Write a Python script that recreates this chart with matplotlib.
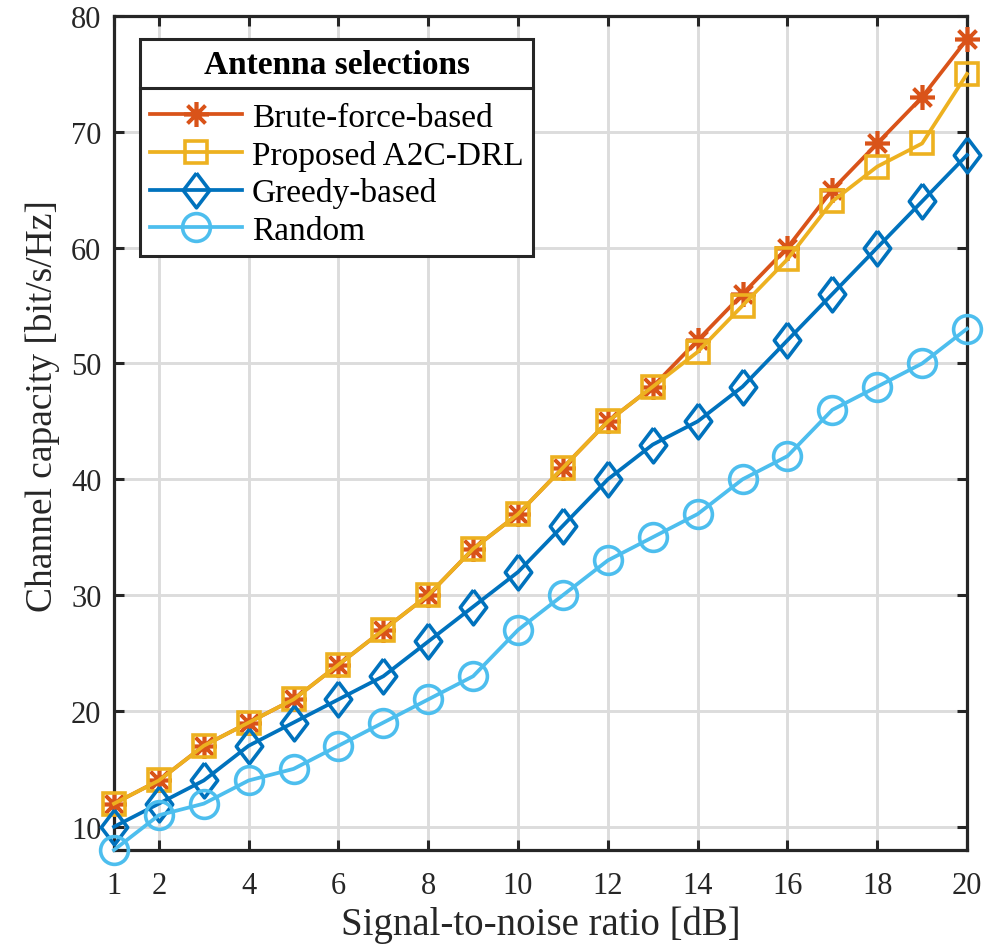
import matplotlib
matplotlib.use('Agg')
import matplotlib.pyplot as plt
from matplotlib.lines import Line2D
import numpy as np

plt.rcParams['font.family'] = ['Liberation Serif', 'DejaVu Serif']

snr = [1, 2, 3, 4, 5, 6, 7, 8, 9, 10, 11, 12, 13, 14, 15, 16, 17, 18, 19, 20]
brute = [12, 14, 17, 19, 21, 24, 27, 30, 34, 37, 41, 45, 48, 52, 56, 60, 65, 69, 73, 78]
proposed = [12, 14, 17, 19, 21, 24, 27, 30, 34, 37, 41, 45, 48, 51, 55, 59, 64, 67, 69, 75]
greedy = [10, 12, 14, 17, 19, 21, 23, 26, 29, 32, 36, 40, 43, 45, 48, 52, 56, 60, 64, 68]
rand_sel = [8, 11, 12, 14, 15, 17, 19, 21, 23, 27, 30, 33, 35, 37, 40, 42, 46, 48, 50, 53]

xticks = [1, 2, 4, 6, 8, 10, 12, 14, 16, 18, 20]
yticks = [10, 20, 30, 40, 50, 60, 70, 80]

c_brute = '#D95319'
c_prop = '#EDB120'
c_greedy = '#0072BD'
c_rand = '#4DBEEE'

fig = plt.figure(figsize=(10.07, 9.45), dpi=100)
ax = fig.add_axes([0.1132, 0.0995, 0.8471, 0.8825])

lw = 2.7
mew = 2.6
diamond = [(0, 1), (0.76, 0), (0, -1), (-0.76, 0), (0, 1)]

ax.plot(snr, brute, color=c_brute, lw=lw, marker=(8, 2, 0), ms=18, mew=mew,
        label='Brute-force-based', zorder=3, clip_on=False)
ax.plot(snr, proposed, color=c_prop, lw=lw, marker='s', ms=16, mew=mew,
        mfc='none', label='Proposed A2C-DRL', zorder=3, clip_on=False)
ax.plot(snr, greedy, color=c_greedy, lw=lw, marker=diamond, ms=25, mew=mew,
        mfc='none', label='Greedy-based', zorder=3, clip_on=False)
ax.plot(snr, rand_sel, color=c_rand, lw=lw, marker='o', ms=20, mew=mew,
        mfc='none', label='Random', zorder=3, clip_on=False)

ax.set_xlim(1, 20)
ax.set_ylim(8, 80)
ax.set_xticks(xticks)
ax.set_yticks(yticks)
ax.tick_params(direction='in', length=7, width=2.2, labelsize=22,
               top=True, right=True, colors='#262626')
ax.tick_params(axis='x', pad=15)
ax.tick_params(axis='y', pad=9)
for s in ax.spines.values():
    s.set_linewidth(2.3)
    s.set_color('#262626')
ax.grid(True, color='#dcdcdc', lw=2.1)
ax.set_axisbelow(True)

ax.set_xlabel('Signal-to-noise ratio [dB]', fontsize=28, labelpad=4, color='#262626')
ax.set_ylabel('Channel capacity [bit/s/Hz]', fontsize=27, labelpad=8, color='#262626')
ax.yaxis.label.set_y(0.534)

leg = ax.legend(loc='upper left', bbox_to_anchor=(0.0305, 0.972), borderaxespad=0,
                fontsize=24, title='Antenna selections', handlelength=2.75,
                handletextpad=0.3, labelspacing=0.2, borderpad=0.3,
                fancybox=False, edgecolor='#262626', framealpha=1)
leg.get_title().set_fontweight('bold')
leg.get_title().set_fontsize(24)
leg.get_frame().set_linewidth(2.2)
leg._legend_box.sep = 16

fig.canvas.draw()
r = fig.canvas.get_renderer()
tb = leg.get_title().get_window_extent(r)
fb = leg.get_frame().get_window_extent(r)
ysep = tb.y0 - 8
inv = fig.transFigure.inverted()
(x0, y0) = inv.transform((fb.x0, ysep))
(x1, _) = inv.transform((fb.x1, ysep))
fig.add_artist(Line2D([x0, x1], [y0, y0], color='#262626', lw=2.2,
                      transform=fig.transFigure, zorder=10))

fig.savefig('out.png', dpi=100)
